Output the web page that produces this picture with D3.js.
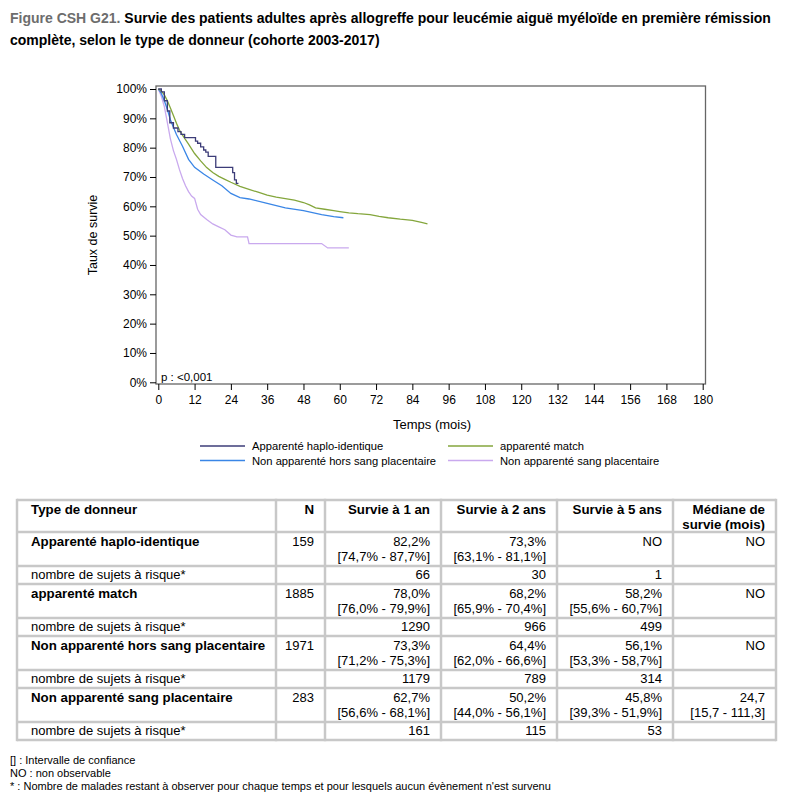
<!DOCTYPE html>
<html>
<head>
<meta charset="utf-8">
<script src="https://cdn.jsdelivr.net/npm/d3@7"></script>
<style>
  body { margin: 0; background: #fff; }
  svg { font-family: "Liberation Sans", Arial, sans-serif; }
  .axis text { font-size: 12px; fill: #000; }
  .axis line { stroke: #000; }
</style>
</head>
<body>
<svg id="chart" width="800" height="809"></svg>
<script>
// survival curves, [months, survival %]
const haplo = [[0,100],[1,99],[2,96],[3,92.5],[3.8,88.5],[5,86.7],[6.5,85.5],[7.5,84.5],[8.7,83.4],[12,83.4],[12.3,82.2],[13,81.5],[14,80.3],[15,79.2],[15.7,78.5],[16.5,77],[18.8,77],[19,73.3],[24.2,73.3],[24.6,71.5],[25.2,69],[25.8,67.8],[26.5,67.8]];
const match = [[0,100],[1,99.3],[2,98],[3,96],[4,93.5],[5,91],[6,88.3],[7,86],[8,84.3],[9,82.7],[10,81.2],[12,78],[14,75.5],[16,73.2],[18,71.5],[20,70.2],[22,69.2],[24,68.2],[27,66.8],[30,65.8],[33,64.8],[36,63.8],[39,63.1],[42,62.6],[45,62.1],[48,61.3],[50,60.5],[52,59.5],[55,59],[58,58.5],[60,58.2],[63,57.8],[66,57.5],[70,57.2],[73,56.6],[76,56.1],[80,55.6],[84,55.2],[87,54.5],[89,54]];
const horsSang = [[0,100],[1,98.5],[2,96],[3,93],[4,89.5],[5,87],[6,84.5],[8,80.5],[10,76],[12,73.3],[15,71],[18,69],[21,67],[24,64.4],[27,63],[30,62.5],[36,61],[42,59.5],[48,58.5],[54,57.2],[58,56.5],[61.2,56.1]];
const sang = [[0,100],[1,97.5],[2,94],[3,88.5],[4,83],[5,79],[6,76],[7,72.5],[8,69.5],[9,67],[10,65],[11,63.5],[12,62.7],[13,59],[14,57.2],[16,55.5],[18,54],[20,53],[22,52],[24,50.2],[26,49.6],[29.5,49.6],[30,47.3],[54,47.3],[56,45.8],[63,45.8]];

const seriesNames = ["Apparenté haplo-identique", "apparenté match", "Non apparenté hors sang placentaire", "Non apparenté sang placentaire"];
const seriesColors = ["#3c3c78", "#84a63c", "#3a86e6", "#c9a9ee"];
const xTicks = d3.range(0, 181, 12);
const yTicks = d3.range(0, 101, 10);

// table
const tableHead = ["Type de donneur", "N", "Survie à 1 an", "Survie à 2 ans", "Survie à 5 ans", "Médiane de|survie (mois)"];
const groupN = ["159", "1885", "1971", "283"];
const surv1 = ["82,2%|[74,7% - 87,7%]", "78,0%|[76,0% - 79,9%]", "73,3%|[71,2% - 75,3%]", "62,7%|[56,6% - 68,1%]"];
const surv2 = ["73,3%|[63,1% - 81,1%]", "68,2%|[65,9% - 70,4%]", "64,4%|[62,0% - 66,6%]", "50,2%|[44,0% - 56,1%]"];
const surv5 = ["NO", "58,2%|[55,6% - 60,7%]", "56,1%|[53,3% - 58,7%]", "45,8%|[39,3% - 51,9%]"];
const median = ["NO", "NO", "NO", "24,7|[15,7 - 111,3]"];
const atRisk1 = ["66", "1290", "1179", "161"];
const atRisk2 = ["30", "966", "789", "115"];
const atRisk5 = ["1", "499", "314", "53"];
const footnotes = ["[] : Intervalle de confiance", "NO : non observable", "* : Nombre de malades restant à observer pour chaque temps et pour lesquels aucun évènement n'est survenu"];

const svg = d3.select("#chart");

// title
const title = svg.append("text").attr("x", 10).attr("y", 23)
  .style("font-size", "14px").style("font-weight", "bold");
title.append("tspan").attr("fill", "#6d6d6d").text("Figure CSH G21. ");
title.append("tspan").attr("fill", "#000").text("Survie des patients adultes après allogreffe pour leucémie aiguë myéloïde en première rémission");
svg.append("text").attr("x", 10).attr("y", 45)
  .style("font-size", "14px").style("font-weight", "bold")
  .text("complète, selon le type de donneur (cohorte 2003-2017)");

// plot
const x = d3.scaleLinear().domain([0, 180]).range([158.3, 702.7]);
const y = d3.scaleLinear().domain([0, 100]).range([382.3, 89]);

svg.append("rect").attr("x", 156).attr("y", 86).attr("width", 549.5).attr("height", 298)
  .attr("fill", "none").attr("stroke", "#666").attr("stroke-width", 1.3);

svg.append("g").attr("class", "axis").attr("transform", "translate(156,0)")
  .call(d3.axisLeft(y).tickValues(yTicks).tickSize(6).tickFormat(d => d + "%"))
  .call(g => g.select(".domain").remove());

svg.append("g").attr("class", "axis").attr("transform", "translate(0,384)")
  .call(d3.axisBottom(x).tickValues(xTicks).tickSize(6).tickPadding(5))
  .call(g => g.select(".domain").remove());

svg.append("text").attr("transform", "translate(97,235) rotate(-90)")
  .attr("text-anchor", "middle").style("font-size", "12.5px").text("Taux de survie");
svg.append("text").attr("x", 432).attr("y", 429)
  .attr("text-anchor", "middle").style("font-size", "13px").text("Temps (mois)");
svg.append("text").attr("x", 161).attr("y", 381).style("font-size", "11.5px").text("p : <0,001");

const stepLine = d3.line().x(d => x(d[0])).y(d => y(d[1])).curve(d3.curveStepAfter);
const smoothLine = d3.line().x(d => x(d[0])).y(d => y(d[1]));
const curves = [haplo, match, horsSang, sang];
// draw sang first so others sit on top
[3, 2, 1, 0].forEach(i => {
  svg.append("path").datum(curves[i]).attr("d", i === 0 ? stepLine : smoothLine)
    .attr("fill", "none").attr("stroke", seriesColors[i]).attr("stroke-width", 1.3);
});

// legend
const legendPos = [[200, 446], [448, 446], [200, 460.5], [448, 460.5]];
seriesNames.forEach((name, i) => {
  const [lx, ly] = legendPos[i];
  svg.append("line").attr("x1", lx).attr("x2", lx + 45).attr("y1", ly).attr("y2", ly)
    .attr("stroke", seriesColors[i]).attr("stroke-width", 1.3);
  svg.append("text").attr("x", lx + 52).attr("y", ly + 4).style("font-size", "11.2px").text(name);
});

// table
const colX = [17, 276, 325, 441, 557, 673, 776];
const rowY = [500, 532, 566, 584, 618, 636, 670, 688, 722, 740];
const tbl = svg.append("g");

function cell(col, top, txt, bold, left) {
  txt.split("|").forEach((s, k) => {
    tbl.append("text")
      .attr("x", left ? colX[col] + 14 : colX[col + 1] - 11)
      .attr("y", top + 14 + k * 14.5)
      .attr("text-anchor", left ? "start" : "end")
      .style("font-size", bold ? "13.3px" : "13px")
      .style("font-weight", bold ? "bold" : "normal")
      .text(s);
  });
}

tableHead.forEach((h, c) => cell(c, rowY[0], h, true, c === 0));
seriesNames.forEach((name, i) => {
  const top = rowY[1 + i * 2];
  cell(0, top, name, true, true);
  cell(1, top, groupN[i], false, false);
  cell(2, top, surv1[i], false, false);
  cell(3, top, surv2[i], false, false);
  cell(4, top, surv5[i], false, false);
  cell(5, top, median[i], false, false);
  const rtop = rowY[2 + i * 2];
  cell(0, rtop - 1, "nombre de sujets à risque*", false, true);
  cell(2, rtop - 1, atRisk1[i], false, false);
  cell(3, rtop - 1, atRisk2[i], false, false);
  cell(4, rtop - 1, atRisk5[i], false, false);
});

rowY.forEach(ry => {
  tbl.append("line").attr("x1", colX[0]).attr("x2", colX[6]).attr("y1", ry).attr("y2", ry)
    .attr("stroke", "#c8c8c8").attr("stroke-width", 2.5);
});
colX.forEach(cx => {
  tbl.append("line").attr("x1", cx).attr("x2", cx).attr("y1", rowY[0] - 1.2).attr("y2", rowY[9] + 1.2)
    .attr("stroke", "#c8c8c8").attr("stroke-width", 2.5);
});

footnotes.forEach((f, i) => {
  svg.append("text").attr("x", 10).attr("y", 764 + i * 13).style("font-size", "11px").text(f);
});
</script>
</body>
</html>
